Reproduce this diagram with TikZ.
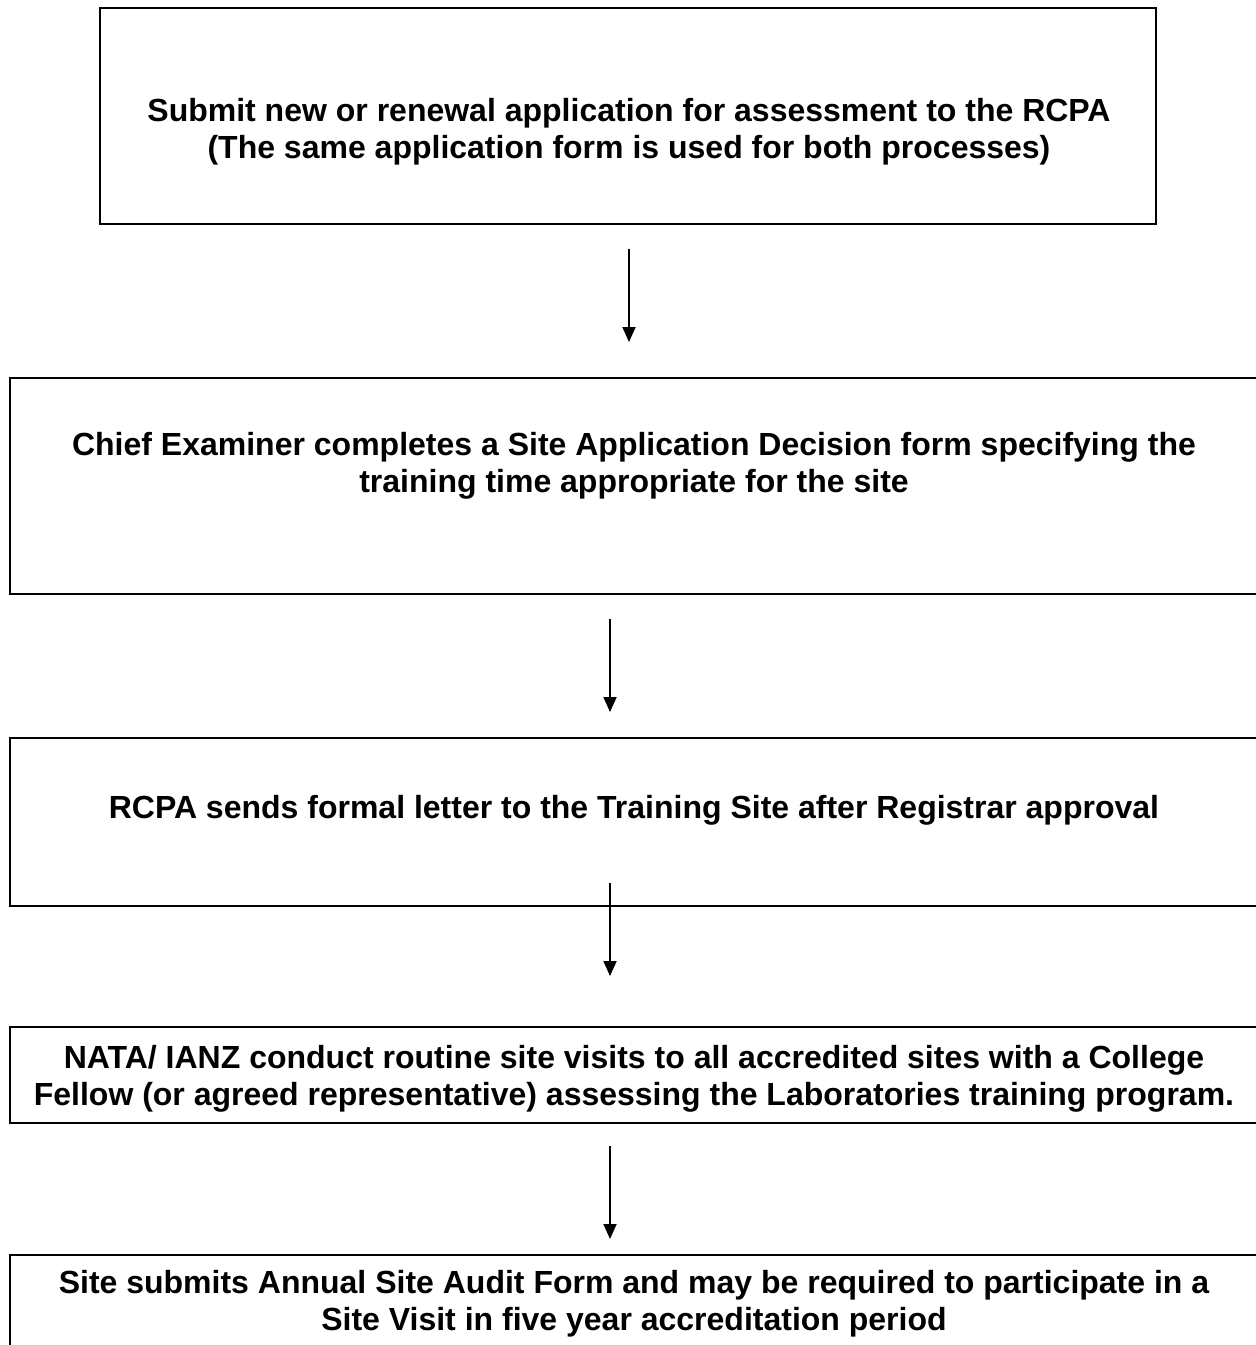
\documentclass[tikz,border=0pt]{standalone}
\usepackage{fontspec}
\setmainfont{Liberation Sans}
\usetikzlibrary{arrows.meta}
\usetikzlibrary{calc}

\begin{document}
\begin{tikzpicture}[x=1pt,y=-1pt,
        stepbox/.style={draw,line width=2pt,inner sep=0pt},
        steptext/.style={align=center,font=\fontsize{32}{36.8}\selectfont\bfseries},
        flow/.style={-{Triangle[length=15pt,width=13pt]},line width=1.8pt}]
            \clip (0,0) rectangle (1256,1345);
            \node[stepbox,line width=1.6pt,minimum width=1056pt,minimum height=216pt] (B1) at (628,116) {};
            \node[stepbox,minimum width=1248pt,minimum height=216pt] (B2) at (634,486) {};
            \node[stepbox,minimum width=1248pt,minimum height=168pt] (B3) at (634,822) {};
            \node[stepbox,minimum width=1248pt,minimum height=96pt] (B4) at (634,1075) {};
            \node[stepbox,minimum width=1248pt,minimum height=200pt] (B5) at (634,1355) {};
            \node[steptext] (T1) at (629,132) {Submit new or renewal application for assessment to the RCPA\\(The same application form is used for both processes)};
            \node[steptext] (T2) at (634,466) {Chief Examiner completes a Site Application Decision form specifying the\\training time appropriate for the site};
            \node[steptext] (T3) at (634,810) {RCPA sends formal letter to the Training Site after Registrar approval};
            \node[steptext] (T4) at (634,1079) {NATA/ IANZ conduct routine site visits to all accredited sites with a College\\Fellow (or agreed representative) assessing the Laboratories training program.};
            \node[steptext] (T5) at (634,1304) {Site submits Annual Site Audit Form and may be required to participate in a\\Site Visit in five year accreditation period};
            \draw[flow,shorten <=24pt,shorten >=35pt] ([xshift=1pt]B1.south) to ([xshift=1pt]B1.south |- B2.north);
            \draw[flow,shorten <=24pt,shorten >=25pt] ([xshift=-24pt]B2.south) to ([xshift=-24pt]B3.north);
            \draw[flow,shorten >=50pt] ([xshift=-24pt,yshift=24pt]B3.south) to ([xshift=-24pt]B4.north);
            \draw[flow,shorten <=22pt,shorten >=15pt] ([xshift=-24pt]B4.south) to ([xshift=-24pt]B5.north);
        \end{tikzpicture}
\end{document}
